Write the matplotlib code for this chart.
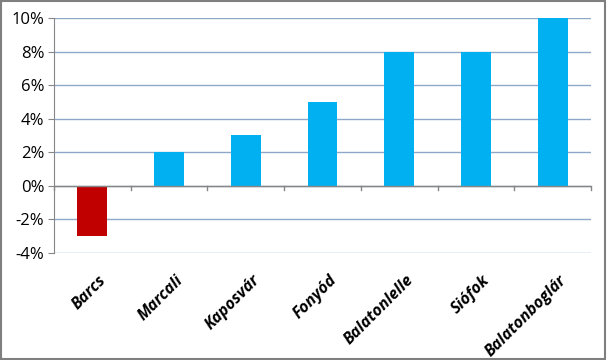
import matplotlib
matplotlib.use("Agg")
import matplotlib.pyplot as plt
import matplotlib.transforms as mtransforms
from matplotlib.patches import Rectangle
from matplotlib.ticker import FuncFormatter

categories = ["Barcs", "Marcali", "Kaposvár", "Fonyód", "Balatonlelle", "Siófok", "Balatonboglár"]
values = [-3, 2, 3, 5, 8, 8, 10]
colors = ["#C00000" if v < 0 else "#00B0F0" for v in values]

fig = plt.figure(figsize=(6.07, 3.6), dpi=100)
ax = fig.add_axes([54/607, 1-253/360, (591-54)/607, (253-18)/360])

x = list(range(len(categories)))
ax.bar(x, values, width=0.39, color=colors, zorder=3)
ax.set_xlim(-0.5, len(categories)-0.5)
ax.set_ylim(-4, 10)
ax.set_yticks(range(-4, 11, 2))
ax.yaxis.set_major_formatter(FuncFormatter(lambda v, p: f"{int(v)}%"))
ax.grid(axis="y", color="#8EA9C8", linewidth=1, zorder=0)
for s in ["top", "right", "bottom"]:
    ax.spines[s].set_visible(False)
ax.spines["left"].set_color("#868686")
ax.tick_params(axis="y", length=4, color="#868686", labelsize=12, pad=3)
ax.set_xticks(x)
ax.set_xticklabels(categories, rotation=45, ha="right", rotation_mode="anchor",
                   fontsize=11.5, fontweight="bold", fontstyle="italic", family="Open Sans")
ax.tick_params(axis="x", length=0, pad=14)
offset = mtransforms.ScaledTranslation(6/100, 0, fig.dpi_scale_trans)
for lab in ax.get_xticklabels():
    lab.set_transform(lab.get_transform() + offset)
for lab in ax.get_yticklabels():
    lab.set_family("Open Sans")
# zero axis line with ticks
ax.axhline(0, color="#868686", linewidth=1, zorder=4)
for k in range(len(categories)+1):
    ax.plot([k-0.5, k-0.5], [0, -0.25], color="#868686", linewidth=1, zorder=4, clip_on=False)

fig.patches.append(Rectangle((0.002, 0.003), 0.995, 0.994, transform=fig.transFigure,
                             fill=False, edgecolor="#7F7F7F", linewidth=1.5))
fig.savefig("out.png", dpi=100)
